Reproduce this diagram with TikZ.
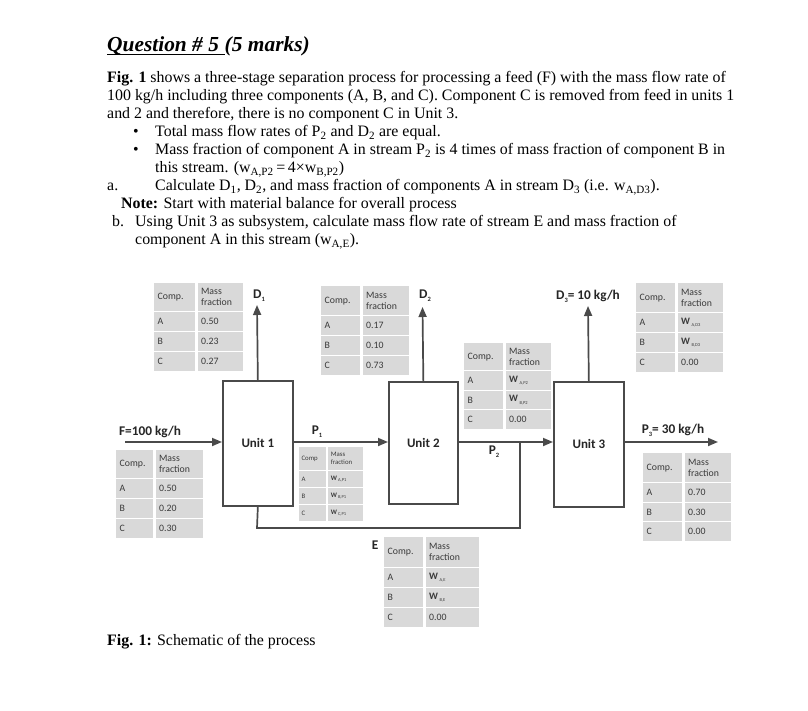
\documentclass[tikz,border=0pt]{standalone}
\usepackage{fontspec}
\setmainfont{Liberation Serif}
\newfontfamily\diag{Carlito}
\usetikzlibrary{arrows.meta}
\definecolor{linegray}{HTML}{4A4A4A}
\definecolor{cellgray}{HTML}{D9D9D9}
\definecolor{celltext}{HTML}{3A3A3A}
\newcommand\sbs[1]{\raisebox{-0.45ex}{\fontsize{6.5}{6.5}\selectfont #1}}
\newcommand\wsb[1]{\textbf{W}\,\raisebox{-0.5ex}{\fontsize{4.5}{5}\selectfont #1}}
\newcommand\trow[8]{%
  \pgfmathsetmacro\twl{#4-8}\pgfmathsetmacro\twr{#5-8}%
  \node[cell, text width=\twl pt, minimum height=#6] (#1l) at (#2,#3) {#7};
  \node[cell, text width=\twr pt, minimum height=#6] (#1r) at (#1l.north east) {#8};
}
\begin{document}
\begin{tikzpicture}[x=1pt,y=-1pt,
  flowline/.style={draw=linegray, line width=1.7},
  flow/.style={flowline, -{Triangle[length=10,width=8]}},
  unitbox/.style={draw=linegray, line width=1.7, fill=white, inner sep=0, anchor=north west, font=\diag\bfseries\fontsize{13}{15}\selectfont, text=black!85},
  txt/.style={anchor=base west, inner sep=0, font=\fontsize{15.9}{18}\selectfont},
  lbl/.style={inner sep=0, font=\diag\bfseries\fontsize{13.3}{15}\selectfont, text=black!85},
  cell/.style={fill=cellgray, draw=white, line width=1.4, anchor=north west, inner xsep=4, inner ysep=0, align=left, text=celltext, font=\diag\fontsize{9.8}{11}\selectfont}
]
\useasboundingbox (0,0) rectangle (808,711);
\fill[white] (0,0) rectangle (808,711);

% ---- text ----
\node[txt, font=\bfseries\itshape\fontsize{21.4}{24}\selectfont] (t1) at (107,52) {Question \# 5\hspace*{0.25em}\mbox{}};
\node[txt, font=\bfseries\itshape\fontsize{21.4}{24}\selectfont, anchor=base west] (t2) at (t1.base east) {(5 marks)};
\draw[line width=1] ([yshift=-3pt]t1.base west) -- ([yshift=-3pt]t1.base east);
\node[txt] (l1) at (107,83) {\textbf{Fig. 1} shows a three-stage separation process for processing a feed (F) with the mass flow rate of};
\node[txt] (l2) at (107,101) {100 kg/h including three components (A, B, and C). Component C is removed from feed in units 1};
\node[txt] (l3) at (107,119) {and 2 and therefore, there is no component C in Unit 3.};
\node[txt] (b1) at (133,137) {•};
\node[txt] (l4) at (155,137) {Total mass flow rates of P\textsubscript{2} and D\textsubscript{2} are equal.};
\node[txt] (b2) at (133,155) {•};
\node[txt] (l5) at (155,155) {Mass fraction of component A in stream P\textsubscript{2} is 4 times of mass fraction of component B in};
\node[txt] (l6) at (155,173) {this stream. (w\textsubscript{A,P2}\,=\,4×w\textsubscript{B,P2})};
\node[txt] (la) at (107,191) {a.};
\node[txt] (l7) at (155,191) {Calculate D\textsubscript{1}, D\textsubscript{2}, and mass fraction of components A in stream D\textsubscript{3} (i.e. w\textsubscript{A,D3}).};
\node[txt] (l8) at (121,209) {\textbf{Note:} Start with material balance for overall process};
\node[txt] (lb) at (112,227) {b.};
\node[txt] (l9) at (135,227) {Using Unit 3 as subsystem, calculate mass flow rate of stream E and mass fraction of};
\node[txt] (l10) at (135,245) {component A in this stream (w\textsubscript{A,E}).};
\node[txt] (cap) at (107,645) {\textbf{Fig. 1:} Schematic of the process};

% ---- units ----
\node[unitbox, minimum width=70, minimum height=125] (u1) at (222,380) {Unit 1};
\node[unitbox, minimum width=69, minimum height=122] (u2) at (388,381) {Unit 2};
\node[unitbox, minimum width=70, minimum height=125] (u3) at (553,381) {Unit 3};

% ---- streams ----
\coordinate (fin) at (125,442);
\coordinate (p3end) at (718,442);
\coordinate (d1end) at (257,305);
\coordinate (d2end) at (422.5,307);
\coordinate (d3end) at (588,306);
\coordinate (e1) at (257,528);
\coordinate (e2) at (520,528);
\draw[flow] (fin) -- (fin -| u1.west);
\draw[flow] (u1.east |- fin) -- (u2.west |- fin);
\draw[flow] (u2.east |- fin) -- (u3.west |- fin);
\draw[flow] (u3.east |- fin) -- (p3end);
\draw[flow] (u1.north) -- (d1end);
\draw[flow] (u2.north) -- (d2end);
\draw[flow] (u3.north) -- (d3end);
\draw[flowline] (u1.south) -- (e1) -- (e2) -- (e2 |- fin);

% ---- stream labels ----
\node[lbl] (fl) at (150,432) {F=100 kg/h};
\node[lbl] (p1l) at (317,432) {P\sbs{1}};
\node[lbl] (p2l) at (494,452) {P\sbs{2}};
\node[lbl] (p3l) at (673,430) {P\sbs{3}= 30 kg/h};
\node[lbl] (d1l) at (259,296) {D\sbs{1}};
\node[lbl] (d2l) at (425,296) {D\sbs{2}};
\node[lbl] (d3l) at (588,296) {D\sbs{3}= 10 kg/h};
\node[lbl] (el) at (375,545) {E};

% ---- tables ----
% D1
\trow{ta}{153}{282}{42}{47}{29}{Comp.}{Mass\\fraction}
\trow{tb}{153}{311}{42}{47}{20}{A}{0.50}
\trow{tc}{153}{331}{42}{47}{20}{B}{0.23}
\trow{td}{153}{351}{42}{47}{20}{C}{0.27}
% D2
\trow{sa}{320}{285}{40}{48}{30}{Comp.}{Mass\\fraction}
\trow{sb}{320}{315}{40}{48}{20}{A}{0.17}
\trow{sc}{320}{335}{40}{48}{20}{B}{0.10}
\trow{sd}{320}{355}{40}{48}{20}{C}{0.73}
% P2
\trow{ra}{463}{342}{40}{47}{28}{Comp.}{Mass\\fraction}
\trow{rb}{463}{370}{40}{47}{19.5}{A}{\wsb{A,P2}}
\trow{rc}{463}{389.5}{40}{47}{19.5}{B}{\wsb{B,P2}}
\trow{rd}{463}{409}{40}{47}{19.5}{C}{0.00}
% D3
\trow{qa}{635}{282}{40}{47}{30}{Comp.}{Mass\\fraction}
\trow{qb}{635}{312}{40}{47}{20}{A}{\wsb{A,D3}}
\trow{qc}{635}{332}{40}{47}{20}{B}{\wsb{B,D3}}
\trow{qd}{635}{352}{40}{47}{20}{C}{0.00}
% Feed
\trow{fa}{115}{449}{38}{49}{29}{Comp.}{Mass\\fraction}
\trow{fb}{115}{478}{38}{49}{20}{A}{0.50}
\trow{fc}{115}{498}{38}{49}{20}{B}{0.20}
\trow{fd}{115}{518}{38}{49}{20}{C}{0.30}
% P3
\trow{pa}{642}{452}{40}{48}{30}{Comp.}{Mass\\fraction}
\trow{pb}{642}{482}{40}{48}{19.5}{A}{0.70}
\trow{pc}{642}{501.5}{40}{48}{19.5}{B}{0.30}
\trow{pd}{642}{521}{40}{48}{19.5}{C}{0.00}
% E
\trow{ea}{383}{536}{40}{55}{31}{Comp.}{Mass\\fraction}
\trow{eb}{383}{567}{40}{55}{20}{A}{\wsb{A,E}}
\trow{ec}{383}{587}{40}{55}{20}{B}{\wsb{B,E}}
\trow{ed}{383}{607}{40}{55}{20}{C}{0.00}
% P1 (small)
\tikzset{cell/.style={fill=cellgray, draw=white, line width=1.2, anchor=north west, inner xsep=3, inner ysep=0, align=left, text=celltext, font=\diag\fontsize{6.8}{7.8}\selectfont}}
\trow{oa}{298}{446}{30}{38}{24}{Comp}{Mass\\fraction}
\trow{ob}{298}{470}{30}{38}{17}{A}{\wsb{A,P1}}
\trow{oc}{298}{487}{30}{38}{17}{B}{\wsb{B,P1}}
\trow{od}{298}{504}{30}{38}{17}{C}{\wsb{C,P1}}
\end{tikzpicture}
\end{document}
